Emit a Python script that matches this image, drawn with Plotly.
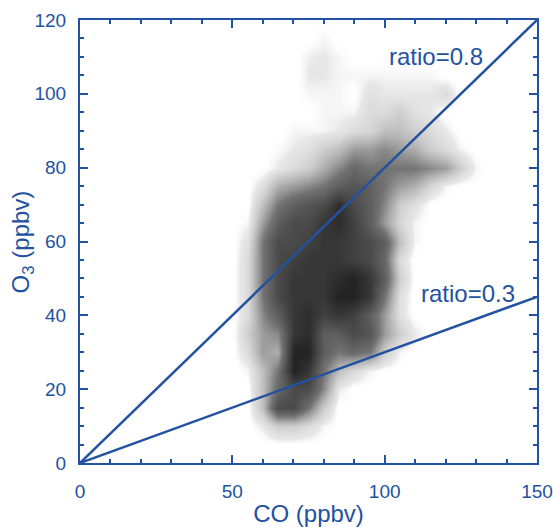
import plotly.graph_objects as go

# density of the O3/CO point cloud (0 = empty, 8 = darkest)
co_bins = [50, 55, 60, 65, 70, 75, 80, 85, 90, 95, 100, 105, 110, 115, 120, 125, 130, 135]
o3_bins = [5, 10, 15, 20, 25, 30, 35, 40, 45, 50, 55, 60, 65, 70, 75, 80, 85, 90, 95, 100, 105, 110, 115, 120]

density = [
    # 50  55   60   65   70   75   80   85   90   95  100  105  110  115  120  125  130  135
    [0, 0,   0,   0,   0,   0,   0,   0,   0,   0,   0,   0,   0,   0,   0,   0,   0,   0],    # 5
    [0, 0,   0.5, 1.5, 1.5, 1,   0.3, 0,   0,   0,   0,   0,   0,   0,   0,   0,   0,   0],    # 10
    [0, 0,   2,   6,   6,   4,   1.5, 0,   0,   0,   0,   0,   0,   0,   0,   0,   0,   0],    # 15
    [0, 0,   2,   4.5, 6,   6,   3.5, 0.5, 0,   0,   0,   0,   0,   0,   0,   0,   0,   0],    # 20
    [0, 0.3, 2,   4,   8,   7,   4,   2,   1,   0.3, 0,   0,   0,   0,   0,   0,   0,   0],    # 25
    [0, 1,   3,   2.5, 8,   8,   5,   4,   4.5, 4,   1.5, 0.3, 0,   0,   0,   0,   0,   0],    # 30
    [0, 1.5, 3,   3.5, 7,   7.5, 5,   5,   6,   5.5, 3,   1.5, 0.5, 0,   0,   0,   0,   0],    # 35
    [0, 1,   3.5, 5,   7,   7.5, 6.5, 7,   6.5, 5,   3,   0.8, 0,   0,   0,   0,   0,   0],    # 40
    [0, 1,   4,   6,   7,   7,   7,   8,   8,   7,   4,   0.8, 0,   0,   0,   0,   0,   0],    # 45
    [0, 1,   4,   6,   7,   7,   7,   7.5, 8,   7,   5,   1.5, 0,   0,   0,   0,   0,   0],    # 50
    [0, 1,   4,   6,   6.5, 7,   7,   7,   6.5, 6,   4.5, 1,   0,   0,   0,   0,   0,   0],    # 55
    [0, 0.8, 4,   6,   6,   6.5, 7,   7,   6.5, 6,   5,   2,   0.3, 0,   0,   0,   0,   0],    # 60
    [0, 0.3, 3,   5,   6,   6,   7,   7.5, 6.5, 5,   3,   1.2, 0.3, 0,   0,   0,   0,   0],    # 65
    [0, 0,   2,   4,   5,   5.5, 6,   7.5, 6,   5,   3.5, 1.5, 0.8, 0,   0,   0,   0,   0],    # 70
    [0, 0,   0.8, 2.5, 3,   3.5, 4,   5,   5.5, 5,   4,   3,   2.5, 1.2, 0.3, 0,   0,   0],    # 75
    [0, 0,   0,   0.5, 1,   1.5, 2.5, 3.5, 4.5, 4,   4,   4,   4,   3.5, 3,   1.5, 0.3, 0],    # 80
    [0, 0,   0,   0.2, 0.5, 0.8, 1.5, 2,   3,   3,   3.5, 3,   2.5, 1.5, 1,   0.3, 0,   0],    # 85
    [0, 0,   0,   0,   0.3, 0.3, 0.3, 0.5, 1,   1.2, 2,   2,   1.5, 1,   0.5, 0,   0,   0],    # 90
    [0, 0,   0,   0,   0,   0,   0.3, 0.3, 0.3, 1,   1,   1.5, 0.8, 0.5, 0,   0,   0,   0],    # 95
    [0, 0,   0,   0,   0,   0.3, 0.3, 0.3, 0,   0.8, 0.5, 0.5, 0.5, 0.5, 1,   0,   0,   0],    # 100
    [0, 0,   0,   0,   0,   0.5, 0.5, 0.3, 0.3, 0.3, 0.3, 0.3, 0.3, 0.3, 0,   0,   0,   0],    # 105
    [0, 0,   0,   0,   0,   0.4, 0.5, 0.3, 0,   0,   0,   0,   0,   0,   0,   0,   0,   0],    # 110
    [0, 0,   0,   0,   0,   0,   0.3, 0,   0,   0,   0,   0,   0,   0,   0,   0,   0,   0],    # 115
    [0, 0,   0,   0,   0,   0,   0,   0,   0,   0,   0,   0,   0,   0,   0,   0,   0,   0],    # 120
]

# reference O3/CO ratio lines
co_line = [0, 150]
ratios = [0.8, 0.3]
ratio_labels = ["ratio=0.8", "ratio=0.3"]
label_pos = [(117, 110), (127.5, 46)]

blue = "#2352a0"
font = "Liberation Sans, Arial, sans-serif"

fig = go.Figure()

fig.add_trace(go.Heatmap(
    x=co_bins, y=o3_bins, z=density,
    zmin=0, zmax=8, zsmooth="best",
    colorscale=[[0, "rgba(255,255,255,0)"], [0.06, "rgba(215,215,215,0.6)"],
                [0.5, "rgb(115,115,115)"], [1, "rgb(35,35,35)"]],
    showscale=False, hoverinfo="skip",
))

for r in ratios:
    fig.add_trace(go.Scatter(
        x=co_line, y=[r * c for c in co_line], mode="lines",
        line=dict(color=blue, width=2.5), showlegend=False,
    ))

for txt, (px, py) in zip(ratio_labels, label_pos):
    fig.add_annotation(x=px, y=py, text=txt, showarrow=False,
                       font=dict(size=24, color=blue, family=font))

# y-axis title placed by hand so it sits close to the tick labels
fig.add_annotation(xref="paper", yref="paper", x=-0.125, y=0.5, text="O<sub>3</sub> (ppbv)",
                   textangle=-90, showarrow=False, xanchor="center", yanchor="middle",
                   font=dict(size=24, color=blue, family=font))

axis_common = dict(
    showline=True, linecolor=blue, linewidth=2, mirror="allticks",
    ticks="inside", ticklen=8, tickwidth=1.5, tickcolor=blue,
    showgrid=False, zeroline=False, automargin=False,
    ticklabeloverflow="allow",
    tickfont=dict(size=19, color=blue, family=font),
)

fig.update_xaxes(range=[0, 150], dtick=50, tick0=0, ticklabelstandoff=10,
                 minor=dict(dtick=10, ticks="inside", ticklen=4, tickcolor=blue, tickwidth=1.5),
                 title=dict(text="CO (ppbv)", font=dict(size=24, color=blue, family=font), standoff=5),
                 **axis_common)
fig.update_yaxes(range=[0, 120], dtick=20, tick0=0, ticklabelstandoff=8,
                 minor=dict(dtick=5, ticks="inside", ticklen=4, tickcolor=blue, tickwidth=1.5),
                 **axis_common)

fig.update_layout(
    width=553, height=527,
    margin=dict(l=80, r=16, t=20, b=64),
    plot_bgcolor="white", paper_bgcolor="white",
    showlegend=False,
)

# drop the page's default body margin so the figure fills the window exactly
fig.write_html("out.html", config={"displayModeBar": False},
               post_script="document.body.style.margin='0';")
